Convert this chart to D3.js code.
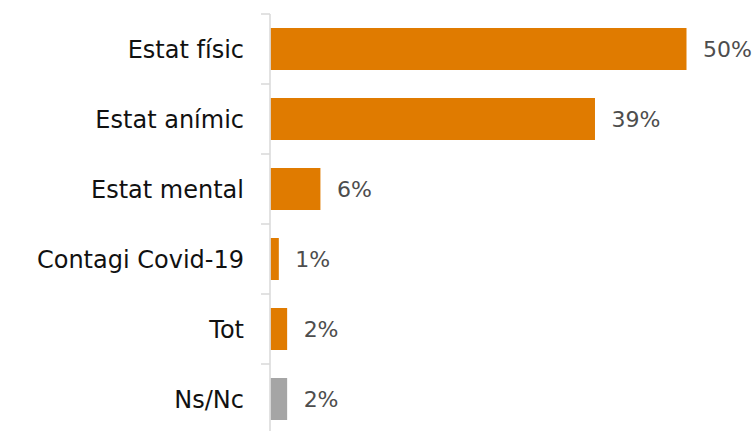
<!DOCTYPE html>
<html>
<head>
<meta charset="utf-8">
<script src="https://cdn.jsdelivr.net/npm/d3@7"></script>
<style>
  body { margin: 0; background: #fff; }
  svg { display: block; }
</style>
</head>
<body>
<svg width="756" height="431"></svg>
<script>
const categories = ["Estat físic", "Estat anímic", "Estat mental", "Contagi Covid-19", "Tot", "Ns/Nc"];
const values = [50, 39, 6, 1, 2, 2];
const colors = ["#e07b00", "#e07b00", "#e07b00", "#e07b00", "#e07b00", "#a5a5a5"];

const svg = d3.select("svg");
const marginLeft = 270, marginTop = 14, band = 70;

const x = d3.scaleLinear().domain([0, 50]).range([0, 416]);
const y = d3.scaleBand().domain(categories)
  .range([0, band * categories.length]).paddingInner(0.4).paddingOuter(0.2);

const g = svg.append("g").attr("transform", "translate(" + marginLeft + "," + marginTop + ")");

// bars
g.selectAll("rect")
  .data(categories)
  .enter()
  .append("rect")
  .attr("x", 0.5)
  .attr("y", d => y(d))
  .attr("width", (d, i) => x(values[i]))
  .attr("height", y.bandwidth())
  .attr("fill", (d, i) => colors[i]);

// value labels
g.selectAll("text.val")
  .data(categories)
  .enter()
  .append("text")
  .attr("class", "val")
  .attr("x", (d, i) => x(values[i]) + 17)
  .attr("y", d => y(d) + y.bandwidth() / 2)
  .attr("dy", "0.36em")
  .attr("font-family", "DejaVu Sans, sans-serif")
  .attr("font-size", 22)
  .attr("fill", "#4d4d4d")
  .text((d, i) => values[i] + "%");

// axis with ticks between categories
const axisG = g.append("g");
axisG.append("line")
  .attr("x1", 0).attr("x2", 0)
  .attr("y1", 0).attr("y2", band * categories.length)
  .attr("stroke", "#d9d9d9").attr("stroke-width", 1.5);
axisG.selectAll("line.tick")
  .data(d3.range(categories.length + 1))
  .enter()
  .append("line")
  .attr("class", "tick")
  .attr("x1", -9).attr("x2", 0)
  .attr("y1", i => i * band).attr("y2", i => i * band)
  .attr("stroke", "#d9d9d9").attr("stroke-width", 1.5);

// category labels
g.selectAll("text.cat")
  .data(categories)
  .enter()
  .append("text")
  .attr("class", "cat")
  .attr("x", -26)
  .attr("y", d => y(d) + y.bandwidth() / 2)
  .attr("dy", "0.36em")
  .attr("text-anchor", "end")
  .attr("font-family", "DejaVu Sans, sans-serif")
  .attr("font-size", 24)
  .attr("fill", "#111")
  .text(d => d);
</script>
</body>
</html>
